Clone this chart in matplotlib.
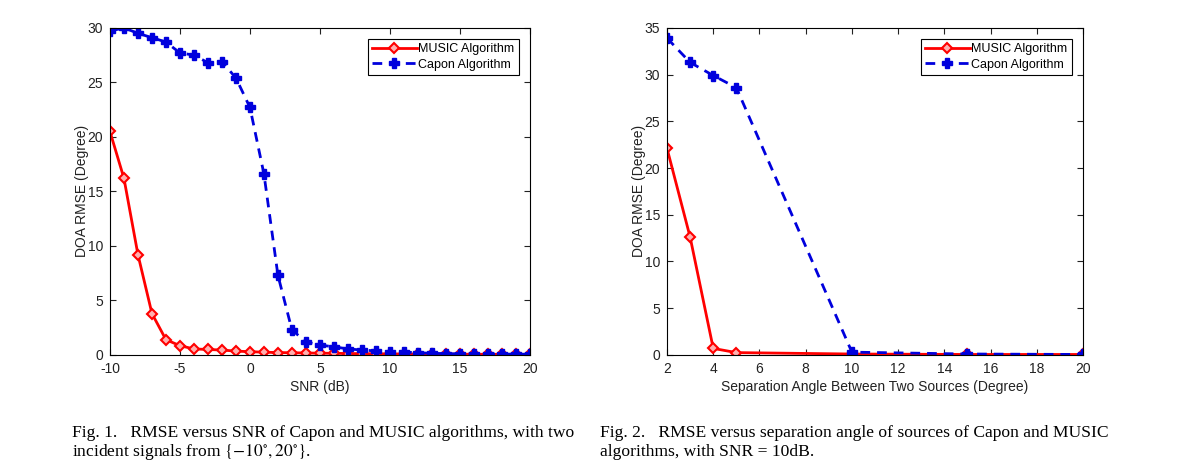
import numpy as np
import matplotlib
matplotlib.use('Agg')
import matplotlib.pyplot as plt

plt.rcParams['font.family'] = ['Liberation Sans', 'DejaVu Sans']
plt.rcParams['mathtext.fontset'] = 'stix'
plt.rcParams['axes.unicode_minus'] = False

# Fig. 1: RMSE vs SNR
snr_db = list(range(-10, 21))
music_snr = [20.5, 16.2, 9.2, 3.8, 1.4, 0.85, 0.55, 0.5, 0.45, 0.35, 0.3,
             0.25, 0.22, 0.2, 0.18, 0.16, 0.15, 0.13, 0.12, 0.11, 0.1,
             0.09, 0.08, 0.08, 0.07, 0.07, 0.06, 0.06, 0.05, 0.05, 0.05]
capon_snr = [29.7, 30.0, 29.5, 29.1, 28.7, 27.7, 27.5, 26.8, 26.9, 25.4, 22.7,
             16.6, 7.3, 2.3, 1.2, 0.9, 0.75, 0.55, 0.45, 0.37, 0.3,
             0.27, 0.2, 0.15, 0.12, 0.1, 0.1, 0.08, 0.08, 0.07, 0.07]

# Fig. 2: RMSE vs separation angle
sep_deg = [2, 3, 4, 5, 10, 15, 20]
music_sep = [22.1, 12.6, 0.7, 0.25, 0.1, 0.05, 0.05]
capon_sep = [33.9, 31.3, 29.9, 28.6, 0.3, 0.1, 0.05]

fig = plt.figure(figsize=(11.81, 4.72), dpi=100)
ax1 = fig.add_axes([0.0931, 0.248, 0.3556, 0.693])
ax2 = fig.add_axes([0.5648, 0.248, 0.3522, 0.693])


def draw(ax, x, music, capon):
    ax.plot(x, music, color='red', lw=2, marker='D', ms=5.5, mfc='#ffb0b0',
            mec='red', mew=1.5, label='MUSIC Algorithm')
    ax.plot(x, capon, color='#0000dd', lw=2, ls=(0, (3.5, 2.5)), marker='P',
            ms=7, mfc='#0000dd', mec='#0000dd', label='Capon Algorithm')
    ax.tick_params(direction='in', top=True, right=True, labelsize=10,
                   length=4, colors='#222222', pad=5)
    for s in ax.spines.values():
        s.set_linewidth(0.8)
    ax.set_ylabel('DOA RMSE (Degree)', fontsize=10, color='#222222', labelpad=-1)
    leg = ax.legend(loc='upper right', fontsize=9, handlelength=3.6,
                    fancybox=False, edgecolor='black', framealpha=1,
                    borderpad=0.35, labelspacing=0.25, handletextpad=0.1,
                    borderaxespad=0.9)
    leg.get_frame().set_linewidth(0.8)


draw(ax1, snr_db, music_snr, capon_snr)
ax1.set_xlim(-10, 20)
ax1.set_ylim(0, 30)
ax1.set_xticks(range(-10, 21, 5))
ax1.set_yticks(range(0, 31, 5))
ax1.set_xlabel('SNR (dB)', fontsize=10, color='#222222', labelpad=3)

draw(ax2, sep_deg, music_sep, capon_sep)
ax2.set_xlim(2, 20)
ax2.set_ylim(0, 35)
ax2.set_xticks(range(2, 21, 2))
ax2.set_yticks(range(0, 36, 5))
ax2.set_xlabel('Separation Angle Between Two Sources (Degree)', fontsize=10,
               color='#222222', labelpad=3)

cap = dict(fontsize=12.6, family=['Liberation Serif', 'DejaVu Serif'],
           va='baseline', ha='left')
fig.text(72 / 1181, 1 - 437 / 472,
         'Fig. 1.   RMSE versus SNR of Capon and MUSIC algorithms, with two', **cap)
fig.text(72 / 1181, 1 - 456 / 472,
         r'incident signals from $\{-10^{\circ}, 20^{\circ}\}$.', **cap)
fig.text(600 / 1181, 1 - 437 / 472,
         'Fig. 2.   RMSE versus separation angle of sources of Capon and MUSIC', **cap)
fig.text(600 / 1181, 1 - 456 / 472,
         'algorithms, with SNR = 10dB.', **cap)

fig.savefig('out.png', dpi=100)
